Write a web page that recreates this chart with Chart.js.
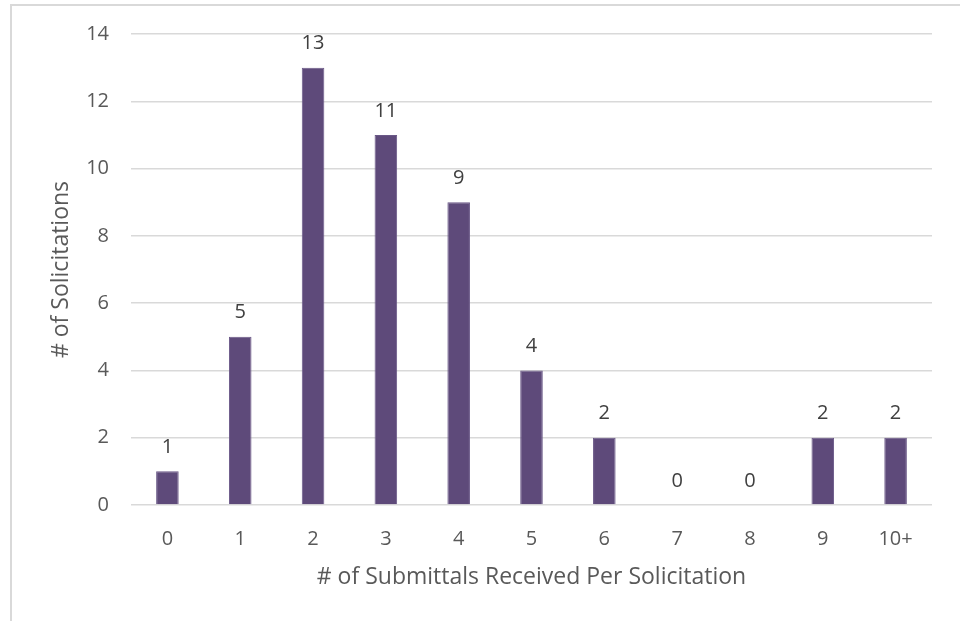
<!DOCTYPE html>
<html>
<head>
<meta charset="utf-8">
<script src="https://cdn.jsdelivr.net/npm/chart.js@4"></script>
<style>
  html, body { margin: 0; padding: 0; background: #fff; }
  #wrap { width: 960px; height: 621px; position: relative; }
</style>
</head>
<body>
<div id="wrap"><canvas id="chart"></canvas></div>
<script>
// Submittals received per solicitation
const categories = ['0', '1', '2', '3', '4', '5', '6', '7', '8', '9', '10+'];
const solicitations = [1, 5, 13, 11, 9, 4, 2, 0, 0, 2, 2];
const yTicks = [0, 2, 4, 6, 8, 10, 12, 14];

const FONT = '"Open Sans", Lato, sans-serif';

// Value labels above each bar
const barLabels = {
    id: 'barLabels',
    afterDatasetsDraw(chart) {
        const ctx = chart.ctx;
        const meta = chart.getDatasetMeta(0);
        ctx.save();
        ctx.fillStyle = '#404040';
        ctx.font = '20px ' + FONT;
        ctx.textAlign = 'center';
        ctx.textBaseline = 'middle';
        meta.data.forEach((bar, i) => {
            ctx.fillText(String(solicitations[i]), bar.x, bar.y - 24);
        });
        ctx.restore();
    }
};

// Thin frame along the top and left edges
const frame = {
    id: 'frame',
    beforeDraw(chart) {
        const ctx = chart.ctx;
        ctx.save();
        ctx.strokeStyle = '#d9d9d9';
        ctx.lineWidth = 2;
        ctx.beginPath();
        ctx.moveTo(11, chart.height);
        ctx.lineTo(11, 5);
        ctx.lineTo(chart.width, 5);
        ctx.stroke();
        ctx.restore();
    }
};

new Chart(document.getElementById('chart'), {
    type: 'bar',
    data: {
        labels: categories,
        datasets: [{
            label: '# of Solicitations',
            data: solicitations,
            backgroundColor: '#5e4a7a',
            borderColor: '#6a5887',
            borderWidth: 1,
            barPercentage: 0.31,
            categoryPercentage: 1
        }]
    },
    options: {
        responsive: true,
        maintainAspectRatio: false,
        animation: false,
        layout: { padding: { top: 33, right: 28, left: 0, bottom: 0 } },
        plugins: {
            legend: { display: false },
            tooltip: { enabled: false }
        },
        scales: {
            x: {
                grid: { display: false },
                border: { display: false },
                ticks: { color: '#595959', font: { family: FONT, size: 20 }, padding: 14 },
                title: {
                    display: true,
                    text: '# of Submittals Received Per Solicitation',
                    color: '#595959',
                    font: { family: FONT, size: 23 },
                    padding: { top: 0, bottom: 30 }
                },
                afterFit(scale) { scale.height = 116; }
            },
            y: {
                min: 0,
                max: 14,
                afterBuildTicks(scale) { scale.ticks = yTicks.map(v => ({ value: v })); },
                grid: { color: '#d9d9d9', lineWidth: 1.5, drawTicks: false },
                border: { display: false },
                ticks: { color: '#595959', font: { family: FONT, size: 20 }, padding: 22 },
                title: {
                    display: true,
                    text: '# of Solicitations',
                    color: '#595959',
                    font: { family: FONT, size: 23 },
                    padding: { top: 48, bottom: 0 }
                },
                afterFit(scale) { scale.width = 131; }
            }
        }
    },
    plugins: [barLabels, frame]
});
</script>
</body>
</html>
